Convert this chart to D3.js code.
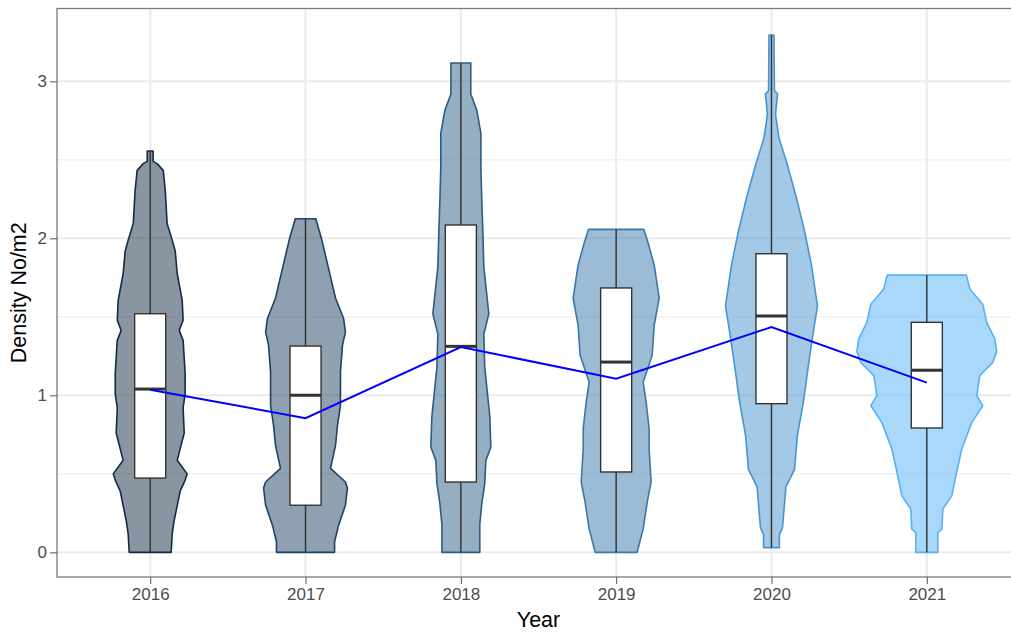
<!DOCTYPE html>
<html>
<head>
<meta charset="utf-8">
<script src="https://cdn.jsdelivr.net/npm/d3@7"></script>
<style>
  body { margin: 0; background: #fff; }
  svg { display: block; font-family: "Liberation Sans", Arial, sans-serif; }
</style>
</head>
<body>
<svg id="chart"></svg>
<script>
// years on the x axis
const years = ["2016", "2017", "2018", "2019", "2020", "2021"];

// violin outlines: [density value, half width in category units]
const violin2016 = [
  [2.556, 0.019], [2.49, 0.019], [2.476, 0.045], [2.433, 0.084], [2.306, 0.097],
  [2.095, 0.109], [1.987, 0.142], [1.92, 0.161], [1.776, 0.174], [1.605, 0.206],
  [1.478, 0.212], [1.414, 0.187], [1.35, 0.212], [1.14, 0.225], [1.01, 0.225],
  [0.92, 0.212], [0.76, 0.219], [0.586, 0.174], [0.50, 0.238], [0.46, 0.225],
  [0.39, 0.193], [0.20, 0.154], [0.12, 0.142], [0, 0.135]
];
const violin2017 = [
  [2.125, 0.066], [1.998, 0.103], [1.785, 0.154], [1.62, 0.193], [1.49, 0.245],
  [1.403, 0.257], [1.32, 0.238], [1.148, 0.225], [0.936, 0.225], [0.81, 0.206],
  [0.68, 0.193], [0.535, 0.161], [0.448, 0.257], [0.41, 0.27], [0.30, 0.257],
  [0.17, 0.212], [0.066, 0.187], [0, 0.187]
];
const violin2018 = [
  [3.117, 0.064], [2.92, 0.064], [2.815, 0.103], [2.67, 0.129], [2.454, 0.129],
  [2.24, 0.135], [2.03, 0.142], [1.82, 0.148], [1.52, 0.18], [1.39, 0.148],
  [1.18, 0.154], [0.86, 0.187], [0.67, 0.193], [0.586, 0.161], [0.44, 0.154],
  [0.31, 0.135], [0.18, 0.122], [0, 0.122]
];
const violin2019 = [
  [2.057, 0.178], [1.977, 0.204], [1.83, 0.245], [1.62, 0.277], [1.446, 0.245],
  [1.255, 0.232], [1.085, 0.174], [0.957, 0.193], [0.79, 0.212], [0.66, 0.212],
  [0.448, 0.225], [0.32, 0.2], [0.15, 0.174], [0, 0.135]
];
const violin2020 = [
  [3.295, 0.016], [2.94, 0.019], [2.92, 0.039], [2.79, 0.026], [2.64, 0.048],
  [2.486, 0.097], [2.268, 0.158], [2.05, 0.212], [1.833, 0.257], [1.57, 0.296],
  [1.397, 0.268], [1.18, 0.236], [0.962, 0.206], [0.745, 0.167], [0.527, 0.148],
  [0.418, 0.093], [0.157, 0.071], [0.113, 0.051], [0.03, 0.051]
];
const violin2021 = [
  [1.766, 0.255], [1.677, 0.277], [1.58, 0.36], [1.465, 0.386], [1.36, 0.438],
  [1.28, 0.45], [1.21, 0.425], [1.125, 0.341], [0.998, 0.322], [0.934, 0.36],
  [0.828, 0.29], [0.658, 0.225], [0.488, 0.187], [0.36, 0.161], [0.276, 0.103],
  [0.148, 0.097], [0.127, 0.071], [0, 0.071]
];
const violins = [violin2016, violin2017, violin2018, violin2019, violin2020, violin2021];

// boxplot stats
const lows    = [0, 0, 0, 0, 0.03, 0];
const q1s     = [0.473, 0.30, 0.448, 0.512, 0.947, 0.792];
const medians = [1.04, 1.0, 1.312, 1.212, 1.505, 1.16];
const q3s     = [1.52, 1.314, 2.085, 1.684, 1.902, 1.465];
const highs   = [2.556, 2.125, 3.117, 2.057, 3.295, 1.766];

// yearly means (blue line)
const means = [1.036, 0.855, 1.308, 1.106, 1.435, 1.081];

const yTicks = [0, 1, 2, 3];
const yMinor = [0.5, 1.5, 2.5];

const W = 1011, H = 633;
const panel = { left: 57, right: 1020, top: 8.5, bottom: 577 };

const svg = d3.select("#chart").attr("width", W).attr("height", H);

const x = d3.scalePoint()
  .domain(years)
  .range([panel.left, panel.right])
  .padding(0.6);

const y = d3.scaleLinear()
  .domain([-0.157, 3.464])
  .range([panel.bottom, panel.top]);

const color = d3.scaleLinear()
  .domain([+years[0], +years[years.length - 1]])
  .range(["#132B43", "#56B1F7"])
  .interpolate(d3.interpolateLab);

// grid
const grid = svg.append("g");
grid.selectAll("line.minor")
  .data(yMinor)
  .join("line")
  .attr("x1", panel.left).attr("x2", panel.right)
  .attr("y1", d => y(d)).attr("y2", d => y(d))
  .attr("stroke", "#ebebeb").attr("stroke-width", 1);
grid.selectAll("line.major-y")
  .data(yTicks)
  .join("line")
  .attr("x1", panel.left).attr("x2", panel.right)
  .attr("y1", d => y(d)).attr("y2", d => y(d))
  .attr("stroke", "#ebebeb").attr("stroke-width", 2);
grid.selectAll("line.major-x")
  .data(years)
  .join("line")
  .attr("x1", d => x(d)).attr("x2", d => x(d))
  .attr("y1", panel.top).attr("y2", panel.bottom)
  .attr("stroke", "#ebebeb").attr("stroke-width", 2);

// violins
const step = x.step();
years.forEach((yr, i) => {
  const cx = x(yr);
  const area = d3.area()
    .y(d => y(d[0]))
    .x0(d => cx - d[1] * step)
    .x1(d => cx + d[1] * step);
  svg.append("path")
    .datum(violins[i])
    .attr("d", area)
    .attr("fill", color(+yr))
    .attr("fill-opacity", 0.5)
    .attr("stroke", color(+yr))
    .attr("stroke-width", 1.6)
    .attr("stroke-linejoin", "round");
});

// boxplots
const boxHalf = 0.1 * step;
const boxes = svg.append("g");
years.forEach((yr, i) => {
  const cx = x(yr);
  boxes.append("line")
    .attr("x1", cx).attr("x2", cx)
    .attr("y1", y(lows[i])).attr("y2", y(highs[i]))
    .attr("stroke", "#333").attr("stroke-width", 1.4);
  boxes.append("rect")
    .attr("x", cx - boxHalf)
    .attr("y", y(q3s[i]))
    .attr("width", boxHalf * 2)
    .attr("height", y(q1s[i]) - y(q3s[i]))
    .attr("fill", "#fff")
    .attr("stroke", "#333").attr("stroke-width", 1.4);
  boxes.append("line")
    .attr("x1", cx - boxHalf).attr("x2", cx + boxHalf)
    .attr("y1", y(medians[i])).attr("y2", y(medians[i]))
    .attr("stroke", "#333").attr("stroke-width", 3);
});

// mean line
svg.append("path")
  .datum(means)
  .attr("d", d3.line().x((d, i) => x(years[i])).y(d => y(d)))
  .attr("fill", "none")
  .attr("stroke", "#0000ff")
  .attr("stroke-width", 2);

// panel border
svg.append("rect")
  .attr("x", panel.left).attr("y", panel.top)
  .attr("width", panel.right - panel.left)
  .attr("height", panel.bottom - panel.top)
  .attr("fill", "none")
  .attr("stroke", "#7a7a7a").attr("stroke-width", 1.3);

// axes
const yAxis = svg.append("g")
  .attr("transform", `translate(${panel.left},0)`)
  .call(d3.axisLeft(y).tickValues(yTicks).tickFormat(d3.format("d")).tickSize(7).tickPadding(3));
const xAxis = svg.append("g")
  .attr("transform", `translate(0,${panel.bottom})`)
  .call(d3.axisBottom(x).tickSize(7).tickPadding(4));

[yAxis, xAxis].forEach(a => {
  a.select(".domain").remove();
  a.selectAll(".tick line").attr("stroke", "#555").attr("stroke-width", 1);
  a.selectAll(".tick text")
    .attr("fill", "#4d4d4d")
    .style("font-size", "17px")
    .style("font-family", "'Liberation Sans', Arial, sans-serif");
});

svg.append("text")
  .attr("x", (panel.left + panel.right) / 2)
  .attr("y", 627)
  .attr("text-anchor", "middle")
  .style("font-size", "21.5px")
  .attr("fill", "#000")
  .text("Year");

svg.append("text")
  .attr("transform", `translate(26,${(panel.top + panel.bottom) / 2}) rotate(-90)`)
  .attr("text-anchor", "middle")
  .style("font-size", "21.5px")
  .attr("fill", "#000")
  .text("Density No/m2");
</script>
</body>
</html>
